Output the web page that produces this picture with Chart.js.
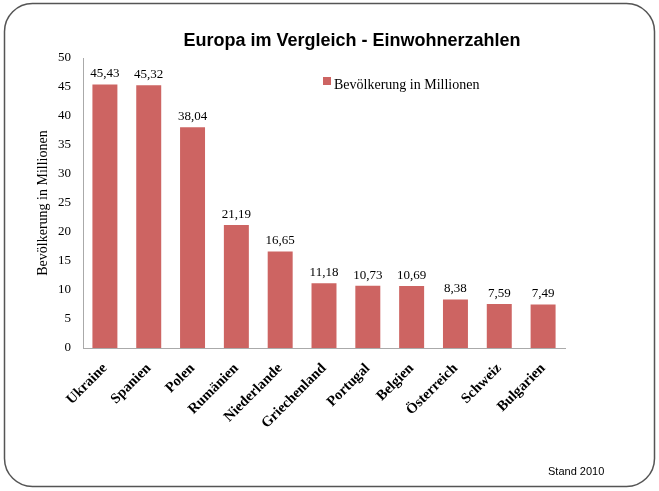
<!DOCTYPE html>
<html>
<head>
<meta charset="utf-8">
<script src="https://cdn.jsdelivr.net/npm/chart.js@4"></script>
<style>
  html, body { margin: 0; padding: 0; background: #fff; }
  #wrap { width: 659px; height: 491px; }
</style>
</head>
<body>
<div id="wrap"><canvas id="popChart" width="659" height="491"></canvas></div>
<script>
// Einwohnerzahlen (Millionen), Stand 2010
const laender = ['Ukraine','Spanien','Polen','Rumänien','Niederlande','Griechenland','Portugal','Belgien','Österreich','Schweiz','Bulgarien'];
const einwohner = [45.43, 45.32, 38.04, 21.19, 16.65, 11.18, 10.73, 10.69, 8.38, 7.59, 7.49];
const yTicks = [0, 5, 10, 15, 20, 25, 30, 35, 40, 45, 50];

const serif = '"Liberation Serif", "DejaVu Serif", serif';
const sans = '"Liberation Sans", Arial, sans-serif';
const barColor = '#cd6462';

// frame, title, legend, footnote, value labels
const extras = {
    id: 'extras',
    beforeDraw(chart) {
        const c = chart.ctx;
        c.save();
        c.fillStyle = '#fff';
        c.fillRect(0, 0, chart.width, chart.height);
        c.beginPath();
        c.roundRect(4.5, 3.5, 650, 483, 28);
        c.strokeStyle = '#555';
        c.lineWidth = 1.5;
        c.stroke();
        c.restore();
    },
    afterDatasetsDraw(chart) {
        const c = chart.ctx;
        c.save();
        // title
        c.fillStyle = '#000';
        c.font = 'bold 18px ' + sans;
        c.textAlign = 'center';
        c.textBaseline = 'middle';
        c.fillText('Europa im Vergleich - Einwohnerzahlen', 352, 41);
        // legend
        c.fillStyle = barColor;
        c.fillRect(323, 77, 8, 8);
        c.fillStyle = '#000';
        c.font = '14px ' + serif;
        c.textAlign = 'left';
        c.textBaseline = 'alphabetic';
        c.fillText('Bevölkerung in Millionen', 334, 89);
        // footnote
        c.font = '11px ' + sans;
        c.fillText('Stand 2010', 548, 475);
        // value labels
        c.font = '13px ' + serif;
        c.textAlign = 'center';
        c.textBaseline = 'bottom';
        chart.getDatasetMeta(0).data.forEach((bar, i) => {
            c.fillText(einwohner[i].toFixed(2).replace('.', ','), bar.x, bar.y - 4);
        });
        c.restore();
    }
};

new Chart(document.getElementById('popChart'), {
    type: 'bar',
    data: {
        labels: laender,
        datasets: [{
            label: 'Bevölkerung in Millionen',
            data: einwohner,
            backgroundColor: barColor,
            barPercentage: 0.57,
            categoryPercentage: 1
        }]
    },
    options: {
        responsive: false,
        animation: false,
        devicePixelRatio: 1,
        layout: { padding: { left: 35, top: 58, right: 94, bottom: 0 } },
        plugins: {
            legend: { display: false },
            title: { display: false },
            tooltip: { enabled: false }
        },
        scales: {
            x: {
                offset: true,
                grid: { display: false },
                border: { color: '#aaa', width: 1 },
                ticks: {
                    color: '#000',
                    font: { family: serif, size: 14.5, weight: 'bold' },
                    minRotation: 45,
                    maxRotation: 45,
                    padding: 4
                },
                afterFit(s) { s.height = 143; }
            },
            y: {
                min: 0,
                max: 50,
                grid: { display: false },
                border: { color: '#aaa', width: 1 },
                afterBuildTicks(s) { s.ticks = yTicks.map(v => ({ value: v })); },
                ticks: {
                    color: '#000',
                    font: { family: serif, size: 13 },
                    padding: 4
                },
                title: {
                    display: true,
                    text: 'Bevölkerung in Millionen',
                    color: '#000',
                    font: { family: serif, size: 14 },
                    padding: 0
                },
                afterFit(s) { s.width = 48; }
            }
        }
    },
    plugins: [extras]
});
</script>
</body>
</html>
